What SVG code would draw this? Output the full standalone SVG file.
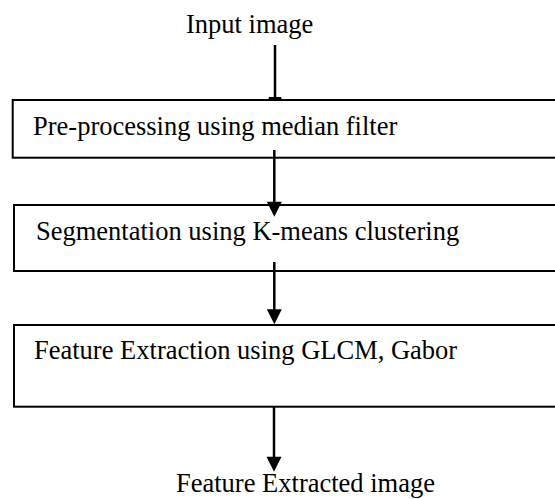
<svg xmlns="http://www.w3.org/2000/svg" width="555" height="499" viewBox="0 0 555 499">
<style>
.box{fill:#fff;stroke:#000;stroke-width:2}
.t{font-family:"Liberation Serif","Times New Roman",serif;font-size:26.5px;fill:#000}
.ln{stroke:#000;stroke-width:2.5;fill:none}
.ah{fill:#000}
</style>
<rect width="555" height="499" fill="#fff"/>
<text class="t" x="186" y="33">Input image</text>
<g id="n1"><rect class="box" x="12.7" y="100" width="560" height="57.7"/><text class="t" x="33" y="135">Pre-processing using median filter</text></g>
<g id="n2"><rect class="box" x="14" y="205" width="560" height="66"/><text class="t" x="36" y="240">Segmentation using K-means clustering</text></g>
<g id="n3"><rect class="box" x="14" y="325" width="560" height="81.7"/><text class="t" x="34" y="359.3">Feature Extraction using GLCM, Gabor</text></g>
<text class="t" x="176" y="492">Feature Extracted image</text>
<g id="connectors">
<line class="ln" x1="275" y1="45" x2="275" y2="100"/>
<polygon class="ah" points="269,97 281,97 282,100.5 268,100.5"/>
<line class="ln" x1="274.3" y1="150" x2="274.3" y2="203"/>
<polygon class="ah" points="266.8,201.7 281.8,201.7 274.3,216.7"/>
<line class="ln" x1="274.3" y1="262" x2="274.3" y2="311"/>
<polygon class="ah" points="266.8,309.3 281.8,309.3 274.3,324.3"/>
<line class="ln" x1="274" y1="406.7" x2="274" y2="458"/>
<polygon class="ah" points="266.5,456.7 281.5,456.7 274,471.7"/>
</g>
</svg>
